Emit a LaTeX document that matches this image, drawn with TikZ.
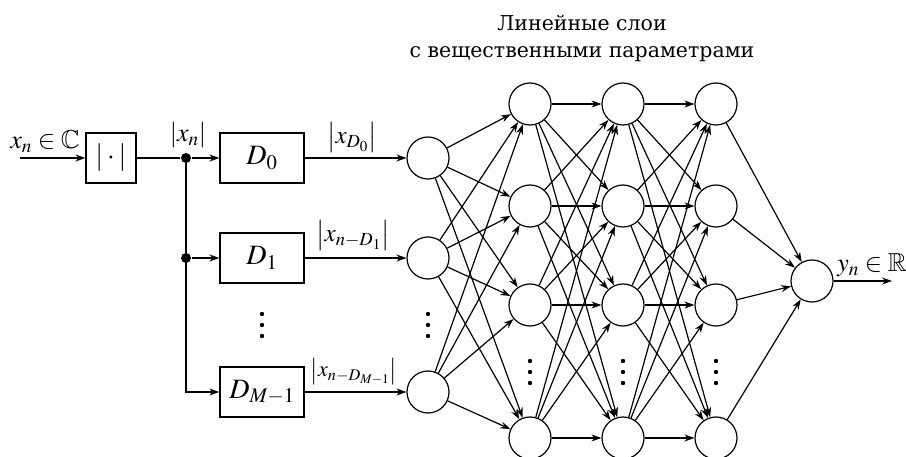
\documentclass[tikz,border=0pt]{standalone}
\usepackage{mathptmx}
\usepackage{amssymb}
\usepackage{fontspec}
\newfontfamily\titlefont{DejaVu Serif}
\usetikzlibrary{arrows.meta}

\begin{document}
\begin{tikzpicture}[x=1pt,y=-1pt,line width=1.2pt,
  >={Stealth[length=10pt,width=7pt]},
  neuron/.style={circle,draw,minimum size=42pt,inner sep=0pt},
  blockbox/.style={draw,minimum height=50pt,inner sep=0pt,font=\fontsize{28}{30}\selectfont},
  junct/.style={circle,fill,inner sep=0pt,minimum size=10pt},
  mlabel/.style={font=\fontsize{26}{28}\selectfont,inner sep=0pt},
  dlabel/.style={font=\fontsize{25}{28}\selectfont,inner sep=0pt,anchor=south},
  caption/.style={font=\titlefont\fontsize{20.5}{27}\selectfont,align=center}]
\useasboundingbox (0,0) rectangle (906,457);

% title over the hidden layers
\node[caption] (title) at (582,38) {Линейные слои\\с вещественными параметрами};

% input and modulus block
\coordinate (start) at (20,158);
\node[blockbox,minimum width=50pt] (abs) at (111,158) {$|\cdot|$};
\node[mlabel] (xin) at (45,142) {$x_n\in\mathbb{C}$};
\node[junct] (j1) at (186,158) {};
\node[junct] (j2) at (186,258) {};
\node[mlabel] (xabs) at (188,135) {$|x_n|$};

% delay blocks
\node[blockbox,minimum width=84pt] (d0) at (262,158) {$D_0$};
\node[blockbox,minimum width=84pt] (d1) at (262,258) {$D_1$};
\node[blockbox,minimum width=84pt] (dm) at (262,392) {$D_{M-1}$};

% input neurons
\node[neuron] (in1) at (428,158) {};
\node[neuron] (in2) at (428,258) {};
\node[neuron] (in3) at (428,392) {};

% delayed-signal labels
\node[dlabel] (l0) at (352,153) {$\left|x_{D_0}\right|$};
\node[dlabel] (l1) at (353,251) {$\bigl|x_{n-D_1}\bigr|$};
\node[dlabel,font=\fontsize{22}{26}\selectfont] (lm) at (354,385) {$\bigl|x_{n-D_{M-1}}\bigr|$};

% hidden layers
\foreach \n/\xx in {a/530,b/623,c/716}{
  \node[neuron] (\n1) at (\xx,104) {};
  \node[neuron] (\n2) at (\xx,206) {};
  \node[neuron] (\n3) at (\xx,305) {};
  \node[neuron] (\n4) at (\xx,438) {};
  \coordinate (\n dots) at (\xx,372);
}

% output neuron
\node[neuron] (out) at (812,281) {};
\coordinate (end) at (892,281);
\node[mlabel] (yout) at (872,265) {$y_n\in\mathbb{R}$};

% vertical ellipses
\coordinate (ddots) at (262,325);
\coordinate (idots) at (428,325);
\foreach \p in {ddots,idots,adots,bdots,cdots}{
  \fill (\p) ++(0,-11) circle (2.2pt);
  \fill (\p) circle (2.2pt);
  \fill (\p) ++(0,11) circle (2.2pt);
}

% signal path
\draw[->] (start) -- (abs);
\draw (abs) -- (j1);
\draw[->] (j1) -- (d0);
\draw[->] (j2) -- (d1);
\draw[->] (j1.center) |- (dm.west);
\draw[->] (d0) -- (in1);
\draw[->] (d1) -- (in2);
\draw[->] (dm) -- (in3);

% dense connections
\foreach \i in {1,2,3}
  \foreach \j in {1,...,4}
    \draw[->] (in\i) -- (a\j);
\foreach \i in {1,...,4}
  \foreach \j in {1,...,4}{
    \draw[->] (a\i) -- (b\j);
    \draw[->] (b\i) -- (c\j);
  }
\foreach \i in {1,...,4}
  \draw[->] (c\i) -- (out);
\draw[->] (out) -- (end);
\end{tikzpicture}
\end{document}
